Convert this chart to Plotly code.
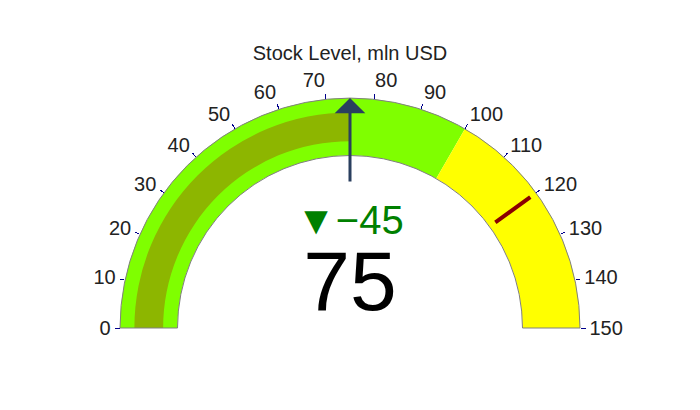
import plotly.graph_objects as go

# gauge data
value = 75
reference = 120
threshold = 120
axis_range = [0, 150]
step_ranges = [[0, 100], [100, 150]]
step_colors = ["#7FFF00", "yellow"]
title_text = "Stock Level, mln USD"

fig = go.Figure(go.Indicator(
    mode="gauge+number+delta",
    value=value,
    title=dict(text=title_text, font=dict(size=20)),
    delta=dict(reference=reference, position="top",
               decreasing=dict(color="green"),
               font=dict(size=40)),
    number=dict(font=dict(size=84, color="black")),
    gauge=dict(
        axis=dict(range=axis_range, tickwidth=1, tickcolor="darkblue",
                  dtick=10, tickfont=dict(size=20)),
        bar=dict(color="#8db600", thickness=0.5),
        bgcolor="white",
        borderwidth=1,
        bordercolor="gray",
        steps=[dict(range=r, color=c) for r, c in zip(step_ranges, step_colors)],
        threshold=dict(line=dict(color="darkred", width=4),
                       thickness=0.75, value=threshold),
    ),
))

# pointer arrow at the current value
fig.add_annotation(x=0.5, y=1, xref="paper", yref="paper",
                   text="", showarrow=True, ax=0, ay=85,
                   arrowhead=1, arrowwidth=3, arrowsize=1.7,
                   arrowcolor="#2a3f5f")

fig.update_layout(width=700, height=410, paper_bgcolor="white",
                  margin=dict(l=64, r=80, t=90, b=90),
                  font=dict(family="Arial, Liberation Sans, sans-serif", color="#222"))
fig.write_html("out.html")
